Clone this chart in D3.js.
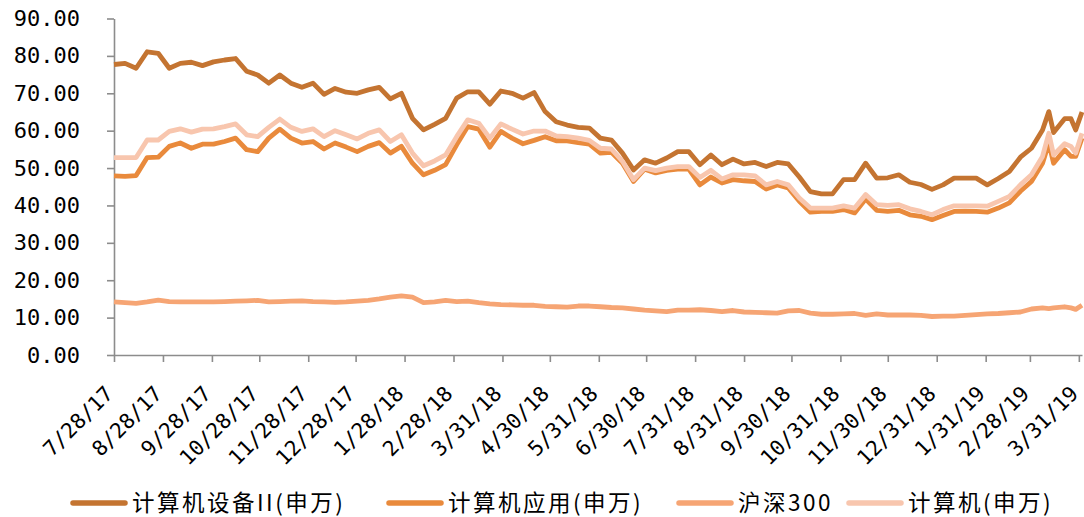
<!DOCTYPE html>
<html>
<head>
<meta charset="utf-8">
<script src="https://cdn.jsdelivr.net/npm/d3@7"></script>
<style>
  body { margin: 0; background: #fff; }
</style>
</head>
<body>
<div id="chart"></div>
<script>
// weekly closes, plus a few extra March 2019 points
const dates = [
  "2017-07-28","2017-08-04","2017-08-11","2017-08-18","2017-08-25","2017-09-01","2017-09-08","2017-09-15","2017-09-22","2017-09-29",
  "2017-10-06","2017-10-13","2017-10-20","2017-10-27","2017-11-03","2017-11-10","2017-11-17","2017-11-24","2017-12-01","2017-12-08",
  "2017-12-15","2017-12-22","2017-12-29","2018-01-05","2018-01-12","2018-01-19","2018-01-26","2018-02-02","2018-02-09","2018-02-16",
  "2018-02-23","2018-03-02","2018-03-09","2018-03-16","2018-03-23","2018-03-30","2018-04-06","2018-04-13","2018-04-20","2018-04-27",
  "2018-05-04","2018-05-11","2018-05-18","2018-05-25","2018-06-01","2018-06-08","2018-06-15","2018-06-22","2018-06-29","2018-07-06",
  "2018-07-13","2018-07-20","2018-07-27","2018-08-03","2018-08-10","2018-08-17","2018-08-24","2018-08-31","2018-09-07","2018-09-14",
  "2018-09-21","2018-09-28","2018-10-05","2018-10-12","2018-10-19","2018-10-26","2018-11-02","2018-11-09","2018-11-16","2018-11-23",
  "2018-11-30","2018-12-07","2018-12-14","2018-12-21","2018-12-28","2019-01-04","2019-01-11","2019-01-18","2019-01-25","2019-02-01",
  "2019-02-08","2019-02-15","2019-02-22","2019-03-01",
  "2019-03-08","2019-03-12","2019-03-15","2019-03-22","2019-03-26","2019-03-29","2019-04-02"
];

const equipment = [
  77.7, 78.0, 76.7, 81.1, 80.7, 76.7, 78.0, 78.3, 77.4, 78.4,
  78.9, 79.3, 75.9, 74.9, 72.7, 74.9, 72.7, 71.6, 72.7, 69.7,
  71.3, 70.3, 70.0, 70.9, 71.6, 68.5, 70.0, 63.3, 60.2, 61.7,
  63.3, 68.7, 70.4, 70.4, 67.1, 70.6, 70.0, 68.7, 70.2, 65.1,
  62.4, 61.5, 60.9, 60.7, 58.0, 57.5, 54.0, 49.5, 52.2, 51.3,
  52.7, 54.4, 54.4, 50.9, 53.5, 50.9, 52.4, 51.1, 51.5, 50.4,
  51.5, 51.1, 47.6, 43.7, 43.1, 43.1, 46.9, 46.9, 51.3, 47.3,
  47.4, 48.2, 46.2, 45.6, 44.3, 45.5, 47.3, 47.3, 47.3, 45.5,
  47.2, 49.1, 52.9, 55.3,
  60.2, 65.1, 59.5, 63.2, 63.2, 60.2, 65.0
];

const application = [
  47.9, 47.8, 48.0, 52.8, 52.9, 55.8, 56.7, 55.3, 56.4, 56.4,
  57.1, 58.0, 54.9, 54.4, 58.0, 60.4, 58.0, 56.7, 57.1, 55.1,
  56.7, 55.6, 54.4, 55.8, 56.8, 54.0, 55.8, 51.3, 48.2, 49.4,
  50.9, 56.2, 61.1, 60.4, 55.6, 59.8, 58.0, 56.5, 57.4, 58.4,
  57.3, 57.3, 56.8, 56.4, 54.0, 54.2, 51.3, 46.4, 49.7, 48.7,
  49.4, 49.7, 49.7, 45.5, 47.6, 46.0, 46.9, 46.6, 46.4, 44.4,
  45.5, 44.7, 41.1, 38.2, 38.4, 38.4, 38.9, 38.0, 41.7, 38.7,
  38.4, 38.7, 37.5, 37.1, 36.2, 37.3, 38.4, 38.5, 38.4, 38.2,
  39.3, 40.7, 43.8, 46.4,
  51.3, 56.7, 51.3, 54.9, 53.1, 53.1, 58.0
];

const hs300 = [
  14.2, 14.0, 13.8, 14.2, 14.7, 14.3, 14.2, 14.2, 14.2, 14.2,
  14.3, 14.4, 14.5, 14.6, 14.2, 14.3, 14.4, 14.5, 14.3, 14.2,
  14.1, 14.2, 14.4, 14.6, 15.0, 15.5, 15.8, 15.5, 14.0, 14.2,
  14.6, 14.3, 14.4, 14.0, 13.7, 13.5, 13.4, 13.3, 13.3, 13.0,
  12.9, 12.8, 13.1, 13.1, 12.9, 12.7, 12.6, 12.3, 12.0, 11.8,
  11.6, 12.0, 12.0, 12.1, 11.9, 11.6, 11.9, 11.5, 11.4, 11.3,
  11.2, 11.8, 11.9, 11.2, 10.9, 10.9, 11.0, 11.1, 10.6, 11.0,
  10.7, 10.7, 10.7, 10.6, 10.3, 10.4, 10.4, 10.6, 10.8, 11.0,
  11.1, 11.3, 11.5, 12.3,
  12.6, 12.4, 12.6, 12.9, 12.6, 12.2, 13.3
];

const computer = [
  52.8, 52.8, 52.8, 57.5, 57.5, 59.8, 60.5, 59.6, 60.4, 60.5,
  61.1, 61.8, 58.9, 58.4, 60.9, 63.1, 60.9, 59.8, 60.5, 58.4,
  60.0, 58.9, 57.8, 59.3, 60.2, 57.1, 58.9, 54.0, 50.6, 51.9,
  53.5, 58.4, 62.9, 62.0, 58.0, 61.8, 60.4, 59.1, 59.9, 59.9,
  58.6, 58.4, 58.0, 57.4, 55.3, 55.1, 51.8, 46.9, 50.0, 49.3,
  50.0, 50.4, 50.4, 47.5, 49.4, 47.1, 48.2, 48.2, 47.9, 45.5,
  46.4, 45.5, 42.0, 39.3, 39.3, 39.3, 39.9, 39.3, 42.9, 40.2,
  40.0, 40.2, 39.1, 38.4, 37.5, 38.9, 39.9, 39.9, 39.9, 39.8,
  41.1, 42.4, 45.5, 48.2,
  53.1, 59.3, 53.5, 56.5, 55.8, 54.0, 59.3
];

const seriesNames = ["计算机设备II(申万)", "计算机应用(申万)", "沪深300", "计算机(申万)"];
const seriesColors = ["#C47431", "#E98A3C", "#F6A574", "#F8C6AE"];

const tickDates = [
  "2017-07-28","2017-08-28","2017-09-28","2017-10-28","2017-11-28","2017-12-28","2018-01-28",
  "2018-02-28","2018-03-31","2018-04-30","2018-05-31","2018-06-30","2018-07-31","2018-08-31",
  "2018-09-30","2018-10-31","2018-11-30","2018-12-31","2019-01-31","2019-02-28","2019-03-31"
];
const yTicks = [0, 10, 20, 30, 40, 50, 60, 70, 80, 90];

const width = 1084;
const height = 517;
const parseDate = d3.timeParse("%Y-%m-%d");
const axisColor = "#8c8c8c";

const svg = d3.select("#chart")
    .append("svg")
    .attr("width", width)
    .attr("height", height);

const x = d3.scaleTime()
    .domain([parseDate(dates[0]), parseDate(dates[dates.length - 1])])
    .range([114, 1082]);

const y = d3.scaleLinear()
    .domain([0, 90])
    .range([355, 18.5]);

const series = [equipment, application, hs300, computer].map((values, i) => ({
    name: seriesNames[i],
    color: seriesColors[i],
    points: values.map((v, j) => ({date: parseDate(dates[j]), value: v}))
}));

function yAxis(g) {
    g.attr("transform", "translate(114,0)")
        .call(d3.axisLeft(y).tickValues(yTicks).tickFormat(d3.format(".2f"))
            .tickSize(7).tickSizeOuter(0).tickPadding(27));
    g.selectAll("path, line").attr("stroke", axisColor).attr("stroke-width", 1.6);
    g.selectAll("text")
        .attr("fill", "#000")
        .attr("font-family", "'DejaVu Sans Mono', monospace")
        .attr("font-size", "22px");
}

function xAxis(g) {
    g.attr("transform", "translate(0,355)")
        .call(d3.axisBottom(x).tickValues(tickDates.map(parseDate))
            .tickFormat(d3.timeFormat("%-m/%-d/%y"))
            .tickSize(7).tickSizeOuter(0));
    g.selectAll("path, line").attr("stroke", axisColor).attr("stroke-width", 1.6);
    g.selectAll("text")
        .attr("x", 0).attr("y", 0).attr("dy", 0)
        .attr("text-anchor", "end")
        .attr("transform", "translate(0,40) rotate(-45)")
        .attr("fill", "#000")
        .attr("font-family", "'DejaVu Sans Mono', monospace")
        .attr("font-size", "21px");
}

svg.append("g").call(xAxis);
svg.append("g").call(yAxis);

const line = d3.line()
    .x(d => x(d.date))
    .y(d => y(d.value));

svg.append("g")
    .selectAll("path")
    .data(series)
    .join("path")
    .attr("d", d => line(d.points))
    .attr("fill", "none")
    .attr("stroke", d => d.color)
    .attr("stroke-width", 4.8)
    .attr("stroke-linejoin", "round");

// legend along the bottom, one slot per series
const legendX = [71, 387, 677, 847];
const legend = svg.append("g").attr("transform", "translate(0,503)");
series.forEach((s, i) => {
    const item = legend.append("g").attr("transform", `translate(${legendX[i]},0)`);
    item.append("line")
        .attr("x1", 2).attr("x2", 54)
        .attr("stroke", s.color)
        .attr("stroke-width", 5.5)
        .attr("stroke-linecap", "round");
    item.append("text")
        .attr("x", 61)
        .attr("dy", "0.36em")
        .attr("font-family", "'Noto Sans CJK SC', sans-serif")
        .attr("font-size", "22.5px")
        .attr("letter-spacing", "2.5px")
        .attr("fill", "#000")
        .text(s.name);
});
</script>
</body>
</html>
